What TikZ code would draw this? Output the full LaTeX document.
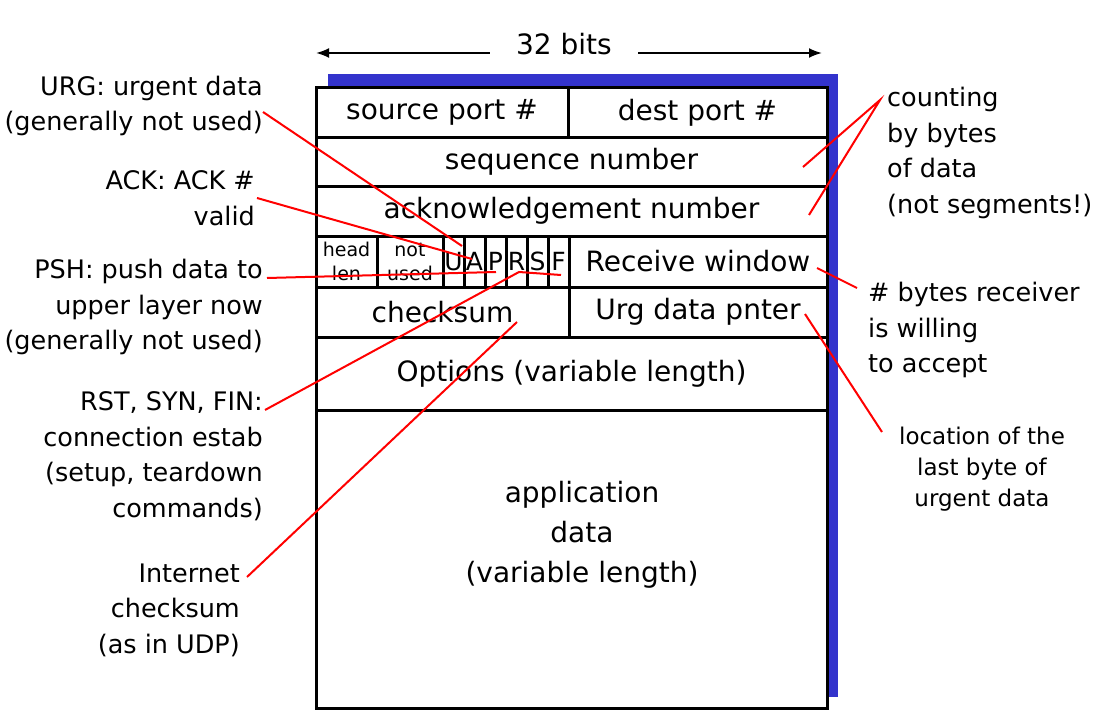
\documentclass[tikz,border=0pt]{standalone}
\usepackage{fontspec}
\setmainfont{DejaVu Sans}
\usetikzlibrary{positioning, arrows.meta}

\definecolor{shadowblue}{HTML}{3333CC}

\tikzset{
    field/.style={draw, fill=white, line width=3pt, inner sep=0pt, outer sep=0pt,
        anchor=north west, font=\fontsize{28}{30}\selectfont},
    flag/.style={field, minimum width=21pt, minimum height=51pt, font=\fontsize{25}{27}\selectfont},
    tinyfield/.style={field, minimum height=51pt, align=center, font=\fontsize{19}{24}\selectfont},
    note/.style={inner sep=0pt, font=\fontsize{25.5}{35.5}\selectfont},
    pointer/.style={red, line width=2pt},
    span/.style={-{Latex[length=13pt, width=10pt]}, line width=2pt},
}

\begin{document}
\begin{tikzpicture}[x=1pt, y=-1pt]

    % Page
    \fill[white] (0,0) rectangle (1112,717);
    \useasboundingbox (0,0) rectangle (1112,717);

    % Width of the header
    \node[font=\fontsize{28}{30}\selectfont, inner xsep=26pt] (bits) at (564,44) {32 bits};
    \coordinate (bitsleft) at (316,53);
    \coordinate (bitsright) at (822,53);
    \draw[span] (bits.west |- bitsleft) -- (bitsleft);
    \draw[span] (bits.east |- bitsright) -- (bitsright);

    % Shadow behind the segment
    \fill[shadowblue] (328,74) rectangle (838,697);

    % Fields of the first rows
    \node[field, minimum width=252pt, minimum height=49pt] (srcport) at (316,88) {source port \#};
    \node[field, minimum width=259pt, minimum height=49pt, right=0pt of srcport] (dstport) {dest port \#};
    \node[field, minimum width=511pt, minimum height=49pt] (seqnum) at (316,137) {sequence number};
    \node[field, minimum width=511pt, minimum height=50pt] (acknum) at (316,186) {acknowledgement number};

    % Flags row
    \node[tinyfield, minimum width=61pt] (headlen) at (316,236) {head\\len};
    \node[tinyfield, minimum width=66pt, right=0pt of headlen] (notused) {not\\used};
    \node[flag, right=0pt of notused] (U) {U};
    \node[flag, right=0pt of U] (A) {A};
    \node[flag, right=0pt of A] (P) {P};
    \node[flag, right=0pt of P] (R) {R};
    \node[flag, right=0pt of R] (S) {S};
    \node[flag, right=0pt of S] (F) {F};
    \node[field, minimum width=258pt, minimum height=51pt, right=0pt of F] (rwnd) {Receive window};

    % Checksum row and the rest
    \node[field, minimum width=253pt, minimum height=50pt] (csum) at (316,287) {checksum};
    \node[field, minimum width=258pt, minimum height=50pt, right=0pt of csum] (urgptr) {Urg data pnter};
    \node[field, minimum width=511pt, minimum height=73pt] (options) at (316,337) {Options (variable length)};
    \node[field, minimum width=511pt, minimum height=298pt] (appdata) at (316,410) {};
    \node[align=center, inner sep=0pt, font=\fontsize{28}{40}\selectfont] (apptext) at (582,535)
        {application\\data\\(variable length)};

    % Notes on the left
    \node[note, anchor=east, align=right] (urg) at (263,106) {URG: urgent data\\(generally not used)};
    \node[note, anchor=east, align=right] (ack) at (255,198) {ACK: ACK \#\\valid};
    \node[note, anchor=east, align=right] (psh) at (263,307) {PSH: push data to\\upper layer now\\(generally not used)};
    \node[note, anchor=east, align=right] (rst) at (263,456) {RST, SYN, FIN:\\connection estab\\(setup, teardown\\commands)};
    \node[note, anchor=east, align=right] (inet) at (240,610) {Internet\\checksum\\(as in UDP)};

    % Notes on the right
    \node[note, anchor=west, align=left] (count) at (887,153) {counting\\by bytes\\of data\\(not segments!)};
    \node[note, anchor=west, align=left] (rcvr) at (868,330) {\# bytes receiver\\is willing\\to accept};
    \node[align=center, inner sep=0pt, font=\fontsize{23}{31}\selectfont] (loc) at (982,469)
        {location of the\\last byte of\\urgent data};

    % Ends of the pointers
    \coordinate (fromUrg) at (263,112);
    \coordinate (fromAck) at (257,198);
    \coordinate (fromPsh) at (267,278);
    \coordinate (fromRst) at (265,410);
    \coordinate (fromInet) at (247,577);
    \coordinate (fromCount) at (880,100);
    \coordinate (fromRcvr) at (857,288);
    \coordinate (fromLoc) at (882,432);
    \coordinate (toU) at (462,246);
    \coordinate (toA) at (472,259);
    \coordinate (toP) at (496,272);
    \coordinate (toR) at (519,272);
    \coordinate (toF) at (561,275);
    \coordinate (toCsum) at (517,322);
    \coordinate (toSeq) at (803,167);
    \coordinate (toAck) at (809,215);
    \coordinate (toRwnd) at (817,268);
    \coordinate (toUrgPtr) at (805,314);

    % Pointers
    \draw[pointer] (fromUrg) -- (toU);
    \draw[pointer] (fromAck) -- (toA);
    \draw[pointer] (fromPsh) -- (toP);
    \draw[pointer] (fromRst) -- (toR) -- (toF);
    \draw[pointer] (fromInet) -- (toCsum);
    \draw[pointer] (toSeq) -- (fromCount) -- (toAck);
    \draw[pointer] (fromRcvr) -- (toRwnd);
    \draw[pointer] (toUrgPtr) -- (fromLoc);

\end{tikzpicture}
\end{document}
